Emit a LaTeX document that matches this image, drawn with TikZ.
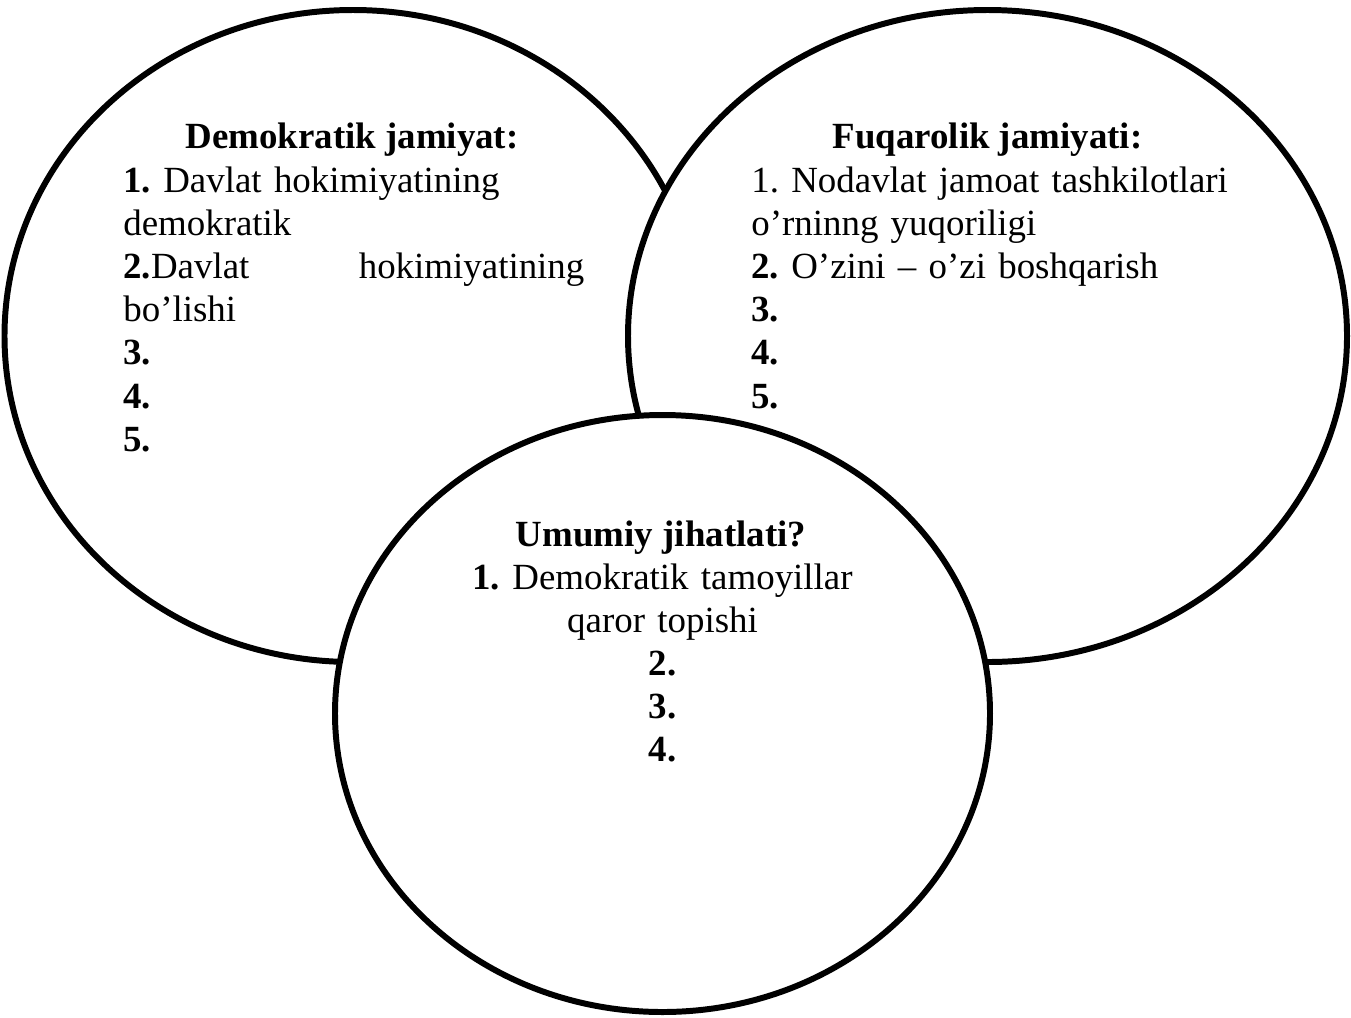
\documentclass[tikz,border=0pt]{standalone}
\usepackage{fontspec}
\setmainfont{Liberation Serif}[BoldFont={Liberation Serif Bold}]
\usepackage{tikz}
\newcommand{\txtsize}{\fontsize{21}{24.6}\selectfont\frenchspacing}
\tikzset{
  ring/.style={draw=black, fill=white, line width=3.4pt},
  head/.style={font=\txtsize\bfseries, anchor=base, inner sep=0pt},
  items/.style={font=\txtsize, anchor=base west, inner sep=0pt, align=left, text width=#1},
  midlist/.style={font=\txtsize, anchor=base, inner sep=0pt, align=center, text width=9cm}
}

\begin{document}
\begin{tikzpicture}
\useasboundingbox (0,0) rectangle (27.02,-20.34);
\coordinate (dem) at (7.06,-6.72);
\coordinate (fuq) at (19.75,-6.72);
\coordinate (um) at (13.25,-14.27);
\draw[ring] (dem) ellipse [x radius=6.97, y radius=6.52];
\draw[ring] (fuq) ellipse [x radius=7.19, y radius=6.52];
\draw[ring] (um) ellipse [x radius=6.55, y radius=5.97];
\node[head] (demhead) at (7.04,-2.96) {Demokratik jamiyat:};
\node[items=9.22cm] (demlist) at (2.46,-3.84) {\textbf{1.} Davlat hokimiyatining\\
  demokratik\\
  \textbf{2.}Davlat\hskip 0pt plus 1filll hokimiyatining\\
  bo’lishi\\
  \textbf{3.}\\
  \textbf{4.}\\
  \textbf{5.}};
\node[head] (fuqhead) at (19.75,-2.96) {Fuqarolik jamiyati:};
\node[items=10cm] (fuqlist) at (15.02,-3.84) {1. Nodavlat jamoat tashkilotlari\\
  o’rninng yuqoriligi\\
  \textbf{2.} O’zini – o’zi boshqarish\\
  \textbf{3.}\\
  \textbf{4.}\\
  \textbf{5.}};
\node[head] (umhead) at (13.22,-10.92) {Umumiy jihatlati?};
\node[midlist] (umlist) at (13.25,-11.78) {\textbf{1.} Demokratik tamoyillar\\
  qaror topishi\\
  \textbf{2.}\\
  \textbf{3.}\\
  \textbf{4.}};
\end{tikzpicture}
\end{document}
